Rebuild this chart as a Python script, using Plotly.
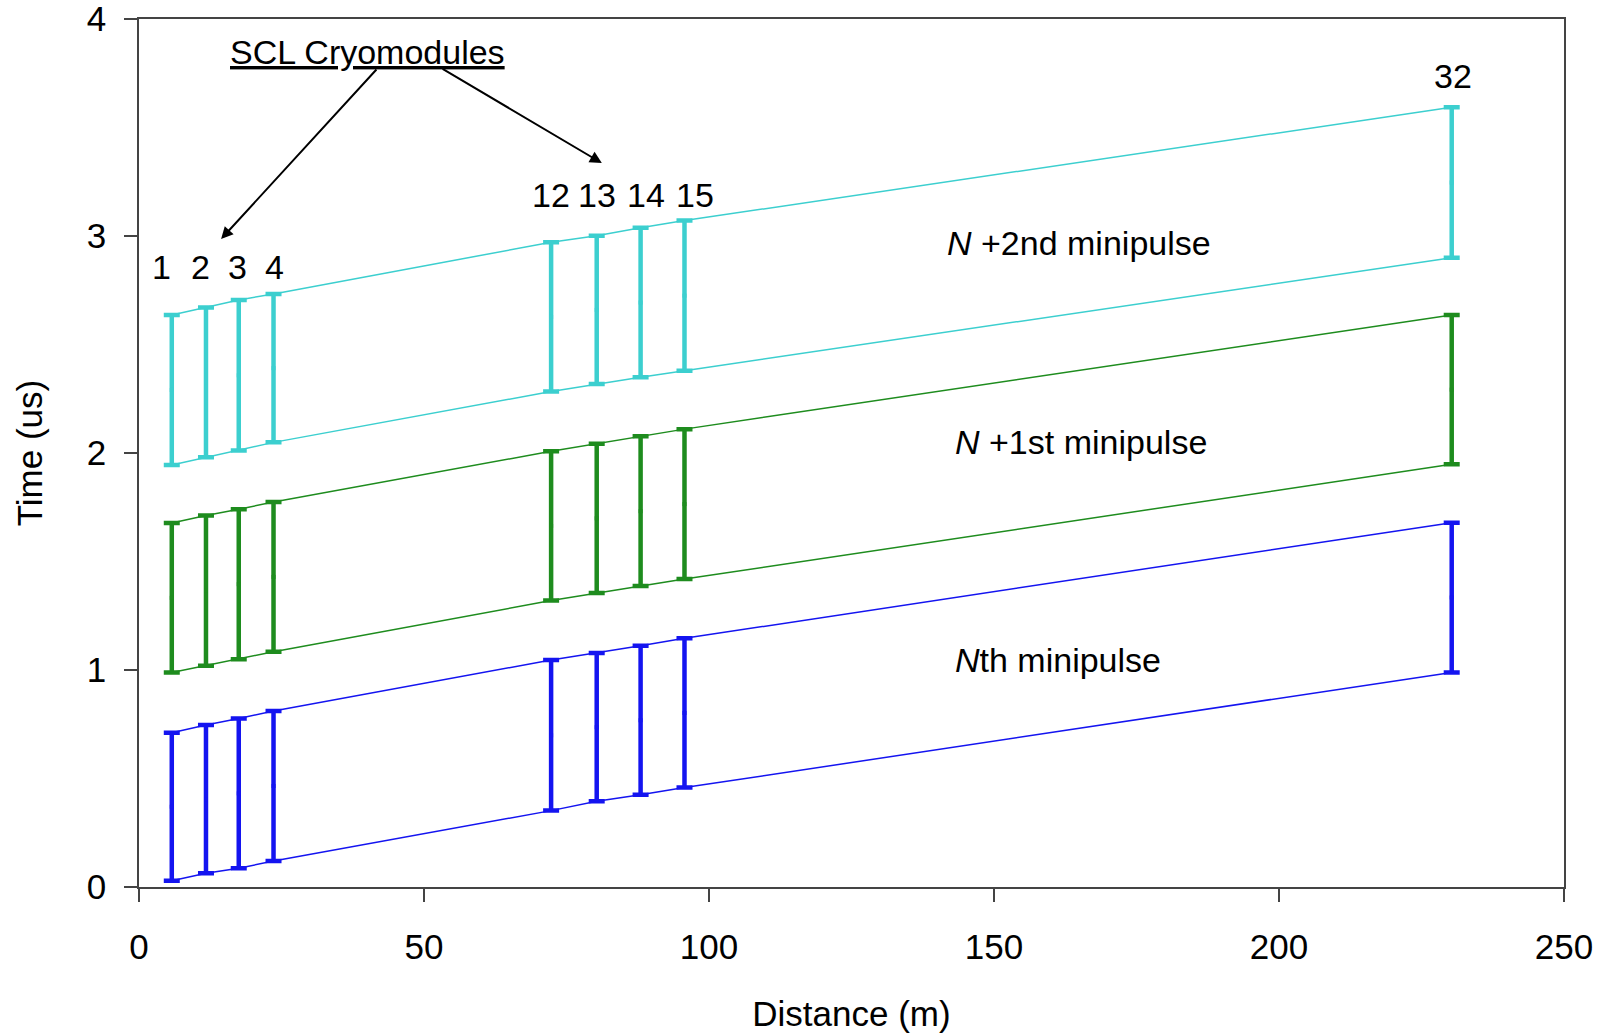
import plotly.graph_objects as go

# ---- data ----
cryo_labels = ["1", "2", "3", "4", "12", "13", "14", "15", "32"]
distance_m = [5.75, 11.75, 17.5, 23.6, 72.3, 80.3, 88.0, 95.7, 230.3]

nth_bottom = [0.029, 0.063, 0.086, 0.120, 0.352, 0.395, 0.425, 0.458, 0.989]
nth_top = [0.711, 0.747, 0.777, 0.811, 1.046, 1.078, 1.112, 1.146, 1.679]

n1_bottom = [0.988, 1.020, 1.050, 1.084, 1.320, 1.355, 1.387, 1.419, 1.948]
n1_top = [1.677, 1.712, 1.741, 1.774, 2.008, 2.043, 2.077, 2.110, 2.636]

n2_bottom = [1.945, 1.980, 2.011, 2.049, 2.283, 2.318, 2.349, 2.379, 2.900]
n2_top = [2.636, 2.670, 2.705, 2.733, 2.971, 3.001, 3.038, 3.071, 3.593]

series_names = ["Nth minipulse", "N+1st minipulse", "N+2nd minipulse"]
series_colors = ["#1414F0", "#1E8C1E", "#3CCFCF"]

label_x = [3.9, 10.8, 17.2, 23.7, 72.2, 80.4, 88.9, 97.5, 230.5]
label_y = [2.857, 2.857, 2.857, 2.857, 3.189, 3.189, 3.189, 3.189, 3.737]

FONT = "Liberation Sans, Arial, sans-serif"

fig = go.Figure()

series = [(nth_bottom, nth_top), (n1_bottom, n1_top), (n2_bottom, n2_top)]
for (bot, top), name, col in zip(series, series_names, series_colors):
    # connecting lines along bottoms and tops
    fig.add_trace(go.Scatter(x=distance_m, y=bot, mode="lines",
                             line=dict(color=col, width=1.5),
                             showlegend=False, name=name))
    fig.add_trace(go.Scatter(x=distance_m, y=top, mode="lines",
                             line=dict(color=col, width=1.5),
                             showlegend=False, name=name))
    # vertical bars at each cryomodule
    mid = [(b + t) / 2 for b, t in zip(bot, top)]
    half = [(t - b) / 2 for b, t in zip(bot, top)]
    fig.add_trace(go.Scatter(x=distance_m, y=mid, mode="markers",
                             marker=dict(color=col, size=4, symbol="square"),
                             error_y=dict(type="data", array=half, visible=True,
                                          color=col, thickness=4.5, width=8),
                             showlegend=False, name=name))

annotations = []
for lx, ly, lab in zip(label_x, label_y, cryo_labels):
    annotations.append(dict(x=lx, y=ly, xref="x", yref="y", text=lab,
                            showarrow=False, font=dict(size=34, color="black", family=FONT)))

annotations.append(dict(x=40.0, y=3.85, xref="x", yref="y",
                        text="<u>SCL Cryomodules</u>", showarrow=False,
                        font=dict(size=34, color="black", family=FONT)))
# arrows
annotations.append(dict(x=14.4, y=2.986, ax=41.9, ay=3.774, xref="x", yref="y",
                        axref="x", ayref="y", text="", showarrow=True,
                        arrowhead=2, arrowsize=1.2, arrowwidth=2, arrowcolor="black"))
annotations.append(dict(x=81.2, y=3.336, ax=53.0, ay=3.774, xref="x", yref="y",
                        axref="x", ayref="y", text="", showarrow=True,
                        arrowhead=2, arrowsize=1.2, arrowwidth=2, arrowcolor="black"))

minipulse_text = ["<i>N</i>th minipulse", "<i>N</i> +1st minipulse", "<i>N</i> +2nd minipulse"]
minipulse_x = [142.8, 142.8, 141.4]
minipulse_y = [1.048, 2.051, 2.97]
for tx, ty, tt in zip(minipulse_x, minipulse_y, minipulse_text):
    annotations.append(dict(x=tx, y=ty, xref="x", yref="y", text=tt, xanchor="left",
                            showarrow=False, font=dict(size=34, color="black", family=FONT)))

fig.update_layout(
    width=1611, height=1034,
    margin=dict(l=139, r=47, t=19, b=147, autoexpand=False),
    paper_bgcolor="white", plot_bgcolor="white",
    font=dict(family=FONT, size=35, color="black"),
    annotations=annotations,
    showlegend=False,
)
fig.update_xaxes(range=[0, 250], tickvals=[0, 50, 100, 150, 200, 250],
                 showgrid=False, zeroline=False, showline=True, mirror=True,
                 linecolor="#444444", linewidth=1.5, automargin=False,
                 ticks="outside", ticklen=13, tickcolor="#444444", tickwidth=1.5,
                 ticklabelstandoff=15, ticklabeloverflow="allow",
                 tickfont=dict(size=35, family=FONT),
                 title=dict(text="Distance (m)", font=dict(size=35, family=FONT), standoff=37))
fig.update_yaxes(range=[0, 4], tickvals=[0, 1, 2, 3, 4],
                 showgrid=False, zeroline=False, showline=True, mirror=True,
                 linecolor="#444444", linewidth=1.5, automargin=False,
                 ticks="outside", ticklen=13, tickcolor="#444444", tickwidth=1.5,
                 ticklabelstandoff=11, ticklabeloverflow="allow",
                 tickfont=dict(size=35, family=FONT),
                 title=dict(text="Time (us)", font=dict(size=35, family=FONT), standoff=34))

fig.write_html("out.html")
